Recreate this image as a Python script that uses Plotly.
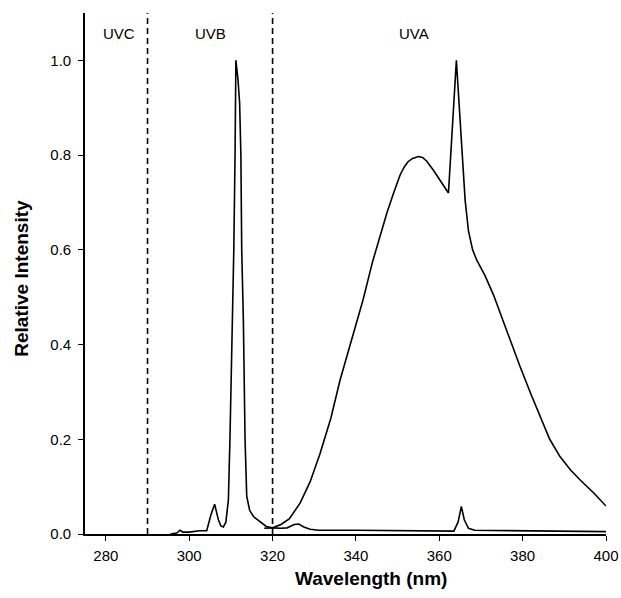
import plotly.graph_objects as go

# UVB narrowband spectrum (wavelength nm, relative intensity)
uvb_wl = [295.5, 297, 297.8, 298.5, 300, 301.5, 302.5, 304.2, 305.2, 306.1, 307, 307.6, 308.2,
          308.8, 309.4, 309.8, 310.3, 310.7, 311.0, 311.2, 311.7, 312.1, 312.4, 312.6, 313.0,
          313.4, 313.8, 314.5, 315.5, 317, 318.5, 320, 322, 323.5, 325.2, 326.3, 327.5, 329,
          331, 340, 355, 363.5, 364.5, 365.3, 366, 367, 368.5, 375, 388, 400]
uvb_int = [0.0, 0.002, 0.008, 0.004, 0.004, 0.006, 0.007, 0.007, 0.04, 0.063, 0.03, 0.017, 0.015,
           0.025, 0.072, 0.21, 0.4, 0.6, 0.8, 1.0, 0.96, 0.91, 0.8, 0.6, 0.45,
           0.2, 0.08, 0.05, 0.036, 0.025, 0.016, 0.013, 0.012, 0.013, 0.02, 0.021, 0.015, 0.01,
           0.008, 0.008, 0.007, 0.006, 0.025, 0.058, 0.03, 0.012, 0.008, 0.007, 0.006, 0.005]

# UVA broadband spectrum
uva_wl = [318, 320, 322, 324, 326.6, 329, 331.4, 334, 336.2, 339, 341.7, 344, 345.8, 347.5, 349,
          350.6, 351.6, 352.5, 353.6, 355, 356, 357, 358.6, 360.5, 362.2, 364.1, 365.6, 366.2,
          367, 368, 369, 371, 373, 374.6, 377, 379.4, 382, 384.2, 386.5, 389, 391.5, 393.8,
          397, 400]
uva_int = [0.012, 0.013, 0.02, 0.032, 0.065, 0.11, 0.17, 0.245, 0.325, 0.41, 0.494, 0.575, 0.63,
           0.68, 0.719, 0.758, 0.775, 0.786, 0.793, 0.797, 0.795, 0.787, 0.768, 0.743, 0.72, 1.0,
           0.79, 0.705, 0.64, 0.6, 0.578, 0.545, 0.505, 0.466, 0.41, 0.353, 0.295, 0.247, 0.2,
           0.163, 0.135, 0.114, 0.087, 0.059]

band_edges = [290, 320]
band_names = ["UVC", "UVB", "UVA"]
band_label_x = [283.1, 305.2, 354.0]
band_label_y = 1.056

x_ticks = [280, 300, 320, 340, 360, 380, 400]
y_ticks = [0.0, 0.2, 0.4, 0.6, 0.8, 1.0]

FONT = "Liberation Sans, Arial, Helvetica, sans-serif"

W, H = 621, 598
L, R, T, B = 85, 15, 13, 64
plot_w = W - L - R

fig = go.Figure()
fig.add_trace(go.Scatter(x=uvb_wl, y=uvb_int, mode="lines",
                         line=dict(color="black", width=1.6), showlegend=False))
fig.add_trace(go.Scatter(x=uva_wl, y=uva_int, mode="lines",
                         line=dict(color="black", width=1.6), showlegend=False))

for e in band_edges:
    fig.add_shape(type="line", xref="x", yref="y", x0=e, x1=e, y0=0, y1=1.1,
                  line=dict(color="black", width=1.6, dash="6px,4px"))

for name, lx in zip(band_names, band_label_x):
    fig.add_annotation(x=lx, y=band_label_y, xref="x", yref="y", text=name,
                       showarrow=False, font=dict(family=FONT, size=15, color="black"))

fig.add_annotation(x=(371 - L) / plot_w, y=-0.085, xref="paper", yref="paper",
                   text="<b>Wavelength (nm)</b>",
                   showarrow=False, font=dict(family=FONT, size=19, color="black"),
                   xanchor="center", yanchor="middle")
fig.add_annotation(x=(22 - L) / plot_w, y=0.49, xref="paper", yref="paper",
                   text="<b>Relative Intensity</b>",
                   showarrow=False, textangle=-90, font=dict(family=FONT, size=19, color="black"),
                   xanchor="center", yanchor="middle")

fig.update_layout(
    width=W, height=H,
    margin=dict(l=L, r=R, t=T, b=B),
    plot_bgcolor="white", paper_bgcolor="white",
    font=dict(family=FONT, size=14, color="black"),
    xaxis=dict(range=[275, 400], tickvals=x_ticks, ticktext=[str(v) for v in x_ticks],
               showgrid=False, zeroline=False, showline=True, linecolor="black", linewidth=1.6,
               ticks="outside", ticklen=5, tickwidth=1.2, tickcolor="black",
               ticklabelstandoff=2, automargin=False,
               tickfont=dict(family=FONT, size=15, color="black")),
    yaxis=dict(range=[0, 1.1], tickvals=y_ticks, ticktext=[f"{v:.1f}" for v in y_ticks],
               showgrid=False, zeroline=False, showline=True, linecolor="black", linewidth=1.6,
               ticks="outside", ticklen=5, tickwidth=1.2, tickcolor="black",
               ticklabelstandoff=4, automargin=False,
               tickfont=dict(family=FONT, size=15, color="black")),
)

# remove the browser's default 8px page margin so the figure fills the window exactly
fig.write_html("out.html", config={"displayModeBar": False},
               post_script="document.body.style.margin='0';")
